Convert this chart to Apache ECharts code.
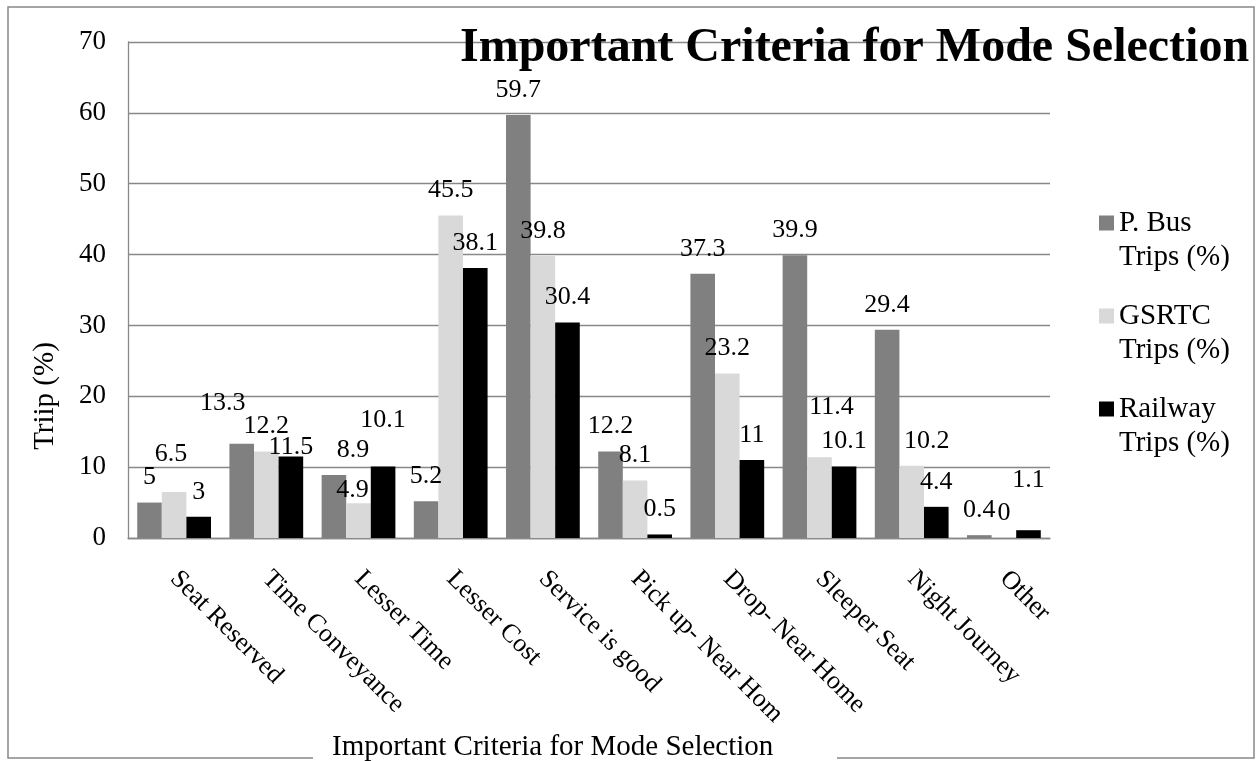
<!DOCTYPE html>
<html>
<head>
<meta charset="utf-8">
<title>Important Criteria for Mode Selection</title>
<script src="https://cdn.jsdelivr.net/npm/echarts@6/dist/echarts.min.js"></script>
<style>
  html, body { margin: 0; padding: 0; background: #ffffff; }
  #chart { width: 1260px; height: 761px; }
</style>
</head>
<body>
<div id="chart"></div>
<script>
// Survey results: share of trips (%) citing each criterion, by mode
const categories = [
  'Seat Reserved', 'Time Conveyance', 'Lesser Time', 'Lesser Cost', 'Service is good',
  'Pick up- Near Home', 'Drop- Near Home', 'Sleeper Seat', 'Night Journey', 'Other'
];
const seriesNames = ['P. Bus Trips (%)', 'GSRTC Trips (%)', 'Railway Trips (%)'];
const busTrips     = [5, 13.3, 8.9, 5.2, 59.7, 12.2, 37.3, 39.9, 29.4, 0.4];
const gsrtcTrips   = [6.5, 12.2, 4.9, 45.5, 39.8, 8.1, 23.2, 11.4, 10.2, 0];
const railwayTrips = [3, 11.5, 10.1, 38.1, 30.4, 0.5, 11, 10.1, 4.4, 1.1];
const yMin = 0, yMax = 70, yStep = 10;

// Small nudges for value labels that would otherwise collide (series -> index -> [dx, dy])
const labelNudges = [
  { 1: [-19, -16], 2: [19, 0] },
  { 0: [-3, -13], 2: [-6, 12], 7: [12, -25], 8: [15, 0] },
  { 1: [0, 16], 2: [0, -21], 9: [0, -25] }
];

const colors = ['#808080', '#d9d9d9', '#000000'];
const serif = '"Liberation Serif", "Times New Roman", serif';
const gridGray = '#888888';

function buildData(values, nudges) {
  return values.map(function (v, i) {
    return nudges[i] ? { value: v, label: { offset: nudges[i] } } : v;
  });
}

const chart = echarts.init(document.getElementById('chart'), null, { renderer: 'canvas' });

const seriesValues = [busTrips, gsrtcTrips, railwayTrips];

chart.setOption({
  animation: false,
  backgroundColor: '#ffffff',
  title: {
    text: 'Important Criteria for Mode Selection',
    left: 460,
    top: 25,
    padding: 0,
    textStyle: { fontFamily: serif, fontSize: 48, fontWeight: 'bold', color: '#000' }
  },
  legend: {
    orient: 'vertical',
    left: 1099,
    top: 172,
    padding: 0,
    itemWidth: 15,
    itemHeight: 15,
    itemGap: -9,
    icon: 'rect',
    data: seriesNames,
    // blank first line keeps the swatch level with the series' first line
    formatter: function (name) { return ' \n' + name.replace(' Trips', '\nTrips'); },
    textStyle: { fontFamily: serif, fontSize: 29, color: '#000', lineHeight: 34 }
  },
  grid: { left: 128, right: 210, top: 42, bottom: 223, containLabel: false },
  xAxis: {
    type: 'category',
    data: categories,
    axisLine: { lineStyle: { color: gridGray, width: 1.3 } },
    axisTick: { show: false },
    axisLabel: {
      rotate: -45,
      margin: 37,
      interval: 0,
      fontFamily: serif,
      fontSize: 26,
      color: '#000',
      width: 204,
      overflow: 'truncate',
      ellipsis: ''
    }
  },
  yAxis: {
    type: 'value',
    min: yMin,
    max: yMax,
    interval: yStep,
    name: 'Triip (%)',
    nameLocation: 'middle',
    nameRotate: 90,
    nameGap: 68,
    nameTextStyle: { fontFamily: serif, fontSize: 29, color: '#000', padding: [0, 212, 0, 0] },
    axisLine: { show: true, lineStyle: { color: gridGray, width: 1.3 } },
    axisTick: { show: false },
    axisLabel: { margin: 22, fontFamily: serif, fontSize: 27, color: '#000' },
    splitLine: { lineStyle: { color: gridGray, width: 1.3 } }
  },
  series: seriesValues.map(function (vals, s) {
    return {
      name: seriesNames[s],
      type: 'bar',
      data: buildData(vals, labelNudges[s]),
      barGap: '0%',
      barCategoryGap: '20%',
      itemStyle: { color: colors[s] },
      label: {
        show: true,
        position: 'top',
        distance: 12,
        fontFamily: serif,
        fontSize: 26,
        color: '#000'
      }
    };
  }),
  graphic: [
    {
      type: 'rect',
      z: 0,
      shape: { x: 8, y: 7, width: 1246, height: 751 },
      style: { fill: 'none', stroke: gridGray, lineWidth: 1.5 }
    },
    {
      type: 'rect',
      z: 1,
      shape: { x: 313, y: 734, width: 524, height: 27 },
      style: { fill: '#ffffff' }
    },
    {
      type: 'text',
      z: 2,
      x: 332,
      y: 747,
      style: {
        text: 'Important Criteria for Mode Selection',
        font: '29px ' + serif,
        fill: '#000',
        align: 'left',
        verticalAlign: 'middle',
        textAlign: 'left',
        textVerticalAlign: 'middle'
      }
    }
  ]
});
</script>
</body>
</html>
